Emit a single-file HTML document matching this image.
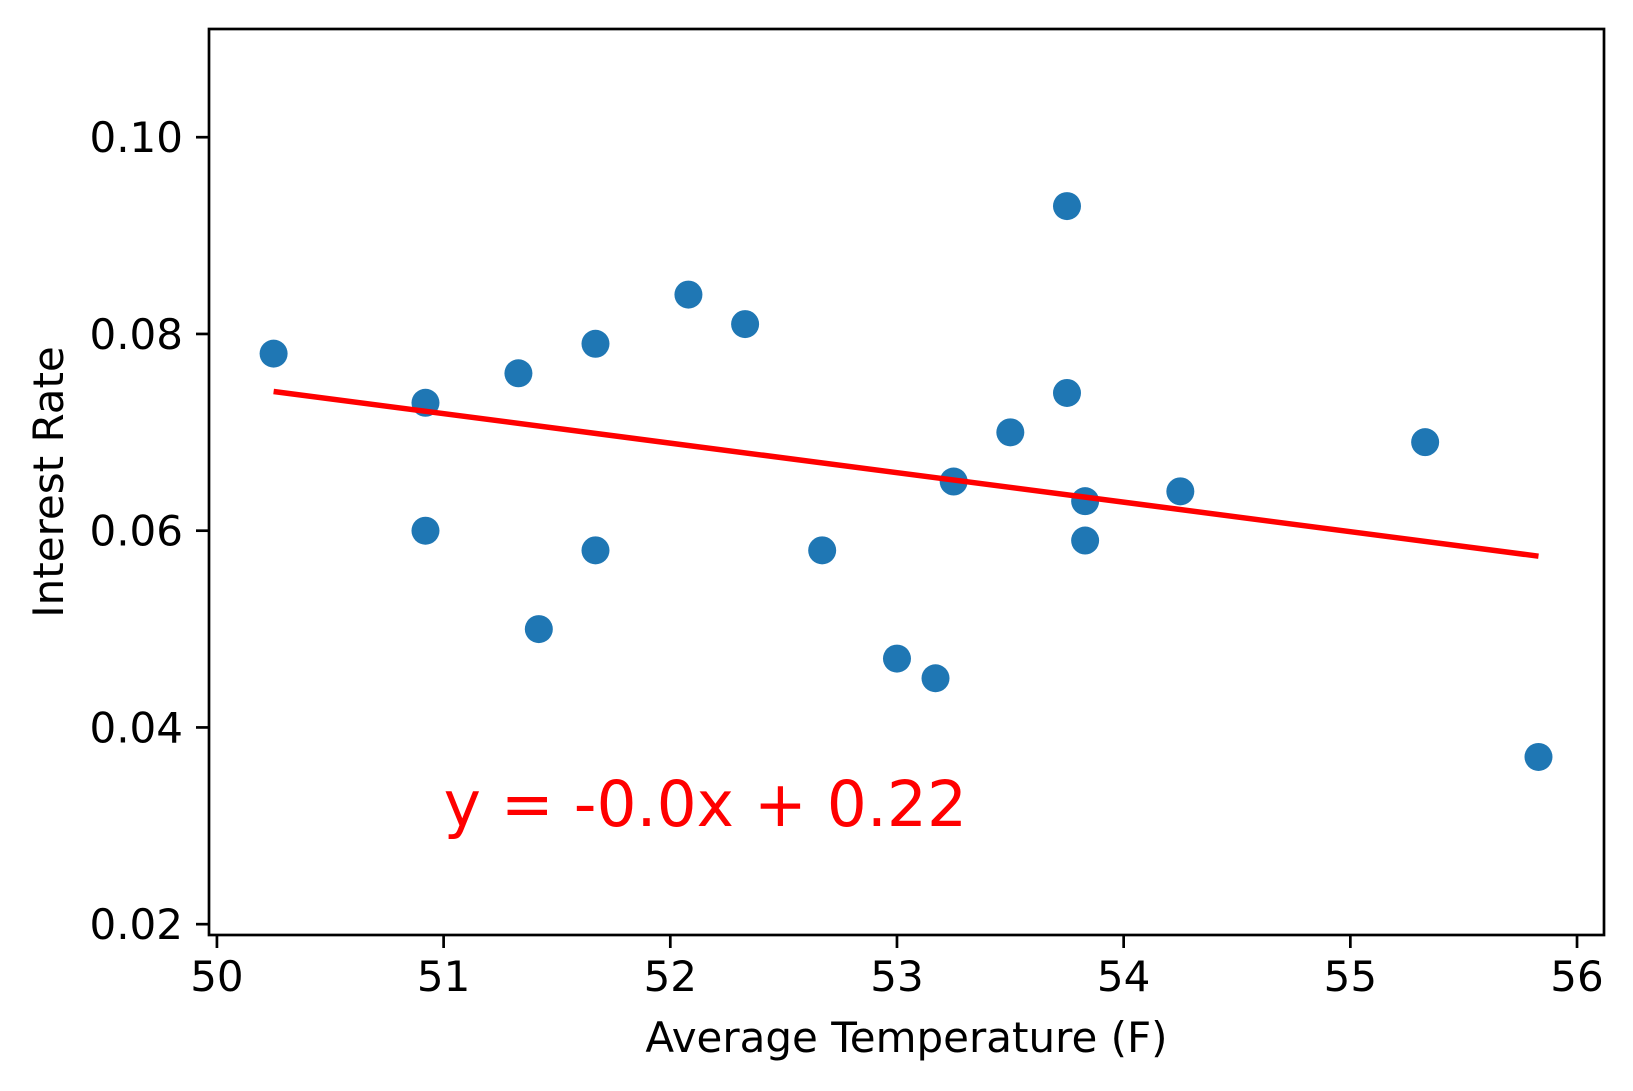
<!DOCTYPE html>
<html><head><meta charset="utf-8"><style>
html,body{margin:0;padding:0;background:#fff;}
svg{display:block;font-family:"DejaVu Sans","Liberation Sans",sans-serif;}
</style></head><body>
<svg id="chart" width="1633" height="1091" viewBox="0 0 1633 1091" xmlns="http://www.w3.org/2000/svg">
<rect x="0" y="0" width="1633" height="1091" fill="#fff"/>
<g id="marks"></g>
<g id="axes"></g>
</svg>
<script>
const temps = [50.25,50.92,50.92,51.33,51.42,51.67,51.67,52.08,52.33,52.67,53.0,53.17,53.25,53.5,53.75,53.75,53.83,53.83,54.25,55.33,55.83];
const rates = [0.078,0.073,0.060,0.076,0.050,0.079,0.058,0.084,0.081,0.058,0.047,0.045,0.065,0.070,0.093,0.074,0.063,0.059,0.064,0.069,0.037];
const fitSlope = [-0.003];
const fitIntercept = [0.2249];
const xTicks = [50,51,52,53,54,55,56];
const yTicks = [0.02,0.04,0.06,0.08,0.10];
const yTickLabels = ["0.02","0.04","0.06","0.08","0.10"];

const L=209,R=1604,T=29,B=935;
const xMin=49.965,xMax=56.119,yMin=0.0189,yMax=0.111;
const sx=v=>L+(v-xMin)/(xMax-xMin)*(R-L);
const sy=v=>B-(v-yMin)/(yMax-yMin)*(B-T);
const NS="http://www.w3.org/2000/svg";
const marks=document.getElementById('marks');
const axes=document.getElementById('axes');
function mk(tag,attrs,parent){const e=document.createElementNS(NS,tag);for(const k in attrs)e.setAttribute(k,attrs[k]);parent.appendChild(e);return e;}

for(let i=0;i<temps.length;i++){
  const c=mk('circle',{cx:sx(temps[i]),cy:sy(rates[i]),r:14,fill:'#1f77b4'},marks);
  
  
}
const x0=Math.min(...temps),x1=Math.max(...temps);
const ln=mk('line',{x1:sx(x0),y1:sy(fitSlope[0]*x0+fitIntercept[0]),x2:sx(x1),y2:sy(fitSlope[0]*x1+fitIntercept[0]),stroke:'#ff0000','stroke-width':5.5},marks);


const eq=mk('text',{x:sx(51),y:sy(0.03),'font-size':63,fill:'#ff0000'},marks);
eq.textContent='y = -0.0x + 0.22';



const frame=mk('rect',{x:L,y:T,width:R-L,height:B-T,fill:'none',stroke:'#000','stroke-width':2.7},axes);



xTicks.forEach(v=>{
  const x=sx(v);
  const t=mk('line',{x1:x,y1:B,x2:x,y2:B+13,stroke:'#000','stroke-width':2.7},axes);
  
  
  const lb=mk('text',{x:x,y:B+56,'font-size':42,'text-anchor':'middle',fill:'#000'},axes);
  lb.textContent=String(v);
  
  
});
yTicks.forEach((v,i)=>{
  const y=sy(v);
  const t=mk('line',{x1:L-13,y1:y,x2:L,y2:y,stroke:'#000','stroke-width':2.7},axes);
  
  
  const lb=mk('text',{x:L-26,y:y+15,'font-size':42,'text-anchor':'end',fill:'#000'},axes);
  lb.textContent=yTickLabels[i];
  
  
});
const xl=mk('text',{x:(L+R)/2,y:1052,'font-size':42,'text-anchor':'middle',fill:'#000'},axes);
xl.textContent='Average Temperature (F)';


const yl=mk('text',{x:0,y:0,'font-size':42,'text-anchor':'middle',fill:'#000',transform:'translate(63,'+((T+B)/2)+') rotate(-90)'},axes);
yl.textContent='Interest Rate';


</script>
</body></html>
